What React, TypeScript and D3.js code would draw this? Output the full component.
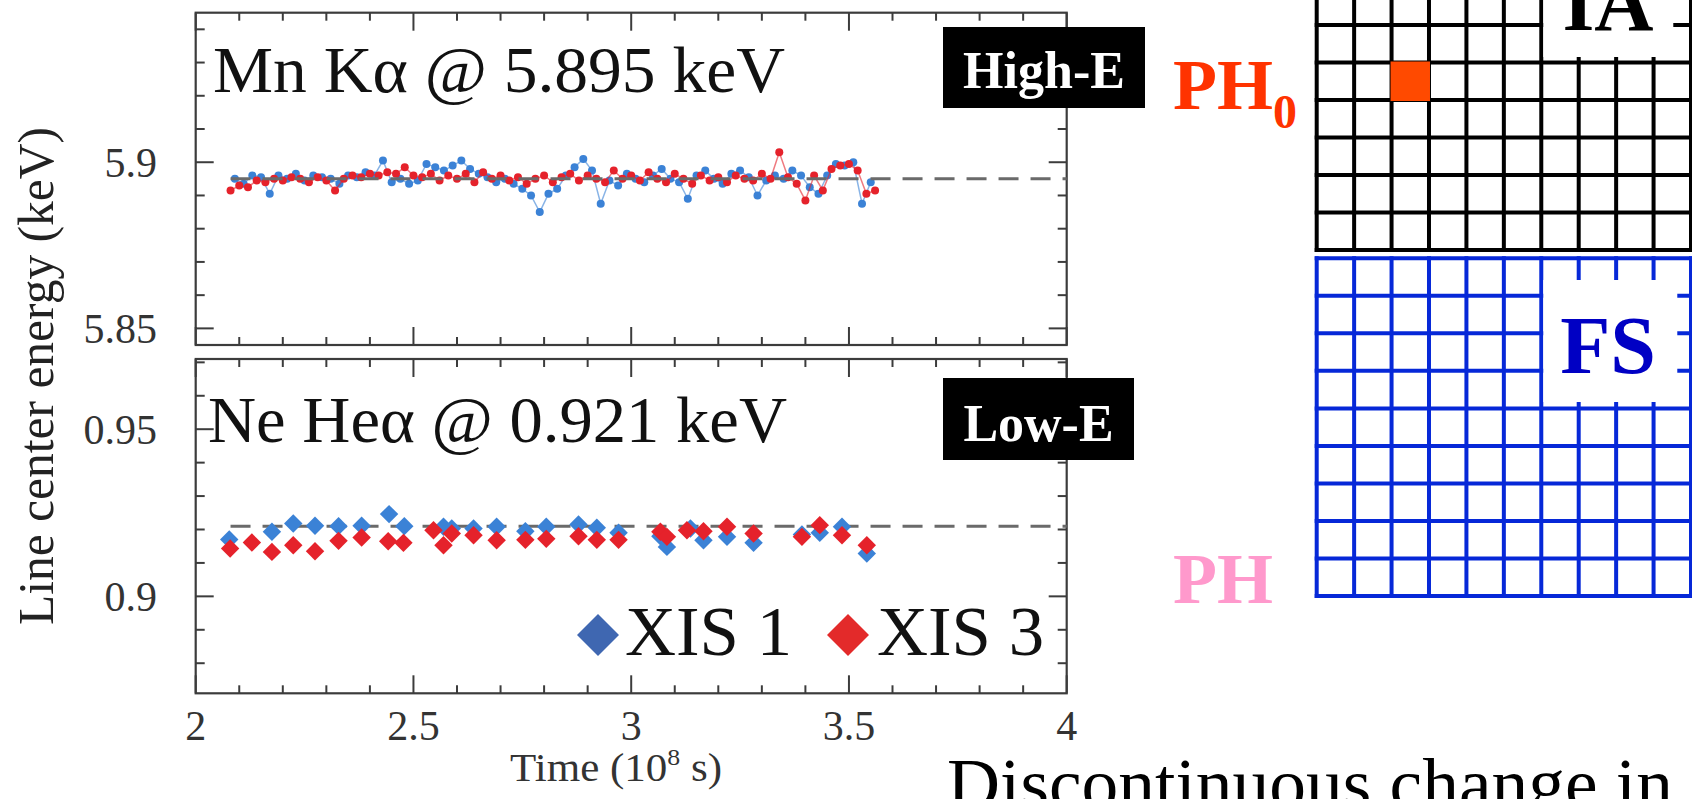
import React from "react";
import * as d3 from "d3";

// ---------- data ----------
const xTickValues = [2, 2.5, 3, 3.5, 4];
const xTickLabels = ["2", "2.5", "3", "3.5", "4"];
const yTopTickValues = [5.85, 5.9];
const yTopTickLabels = ["5.85", "5.9"];
const yBotTickValues = [0.9, 0.95];
const yBotTickLabels = ["0.9", "0.95"];

const mnRef = 5.895;
const neRef = 0.921;

// Mn K-alpha, XIS 1 (blue)
const mnXis1Time = [2.09, 2.11, 2.13, 2.15, 2.17, 2.19, 2.21, 2.23, 2.25, 2.27, 2.29, 2.31, 2.33, 2.35, 2.37, 2.39, 2.41, 2.43, 2.45, 2.47, 2.49, 2.51, 2.53, 2.55, 2.57, 2.59, 2.61, 2.63, 2.65, 2.67, 2.69, 2.71, 2.73, 2.75, 2.77, 2.79, 2.81, 2.83, 2.85, 2.87, 2.89, 2.91, 2.93, 2.95, 2.97, 2.99, 3.01, 3.03, 3.05, 3.07, 3.09, 3.11, 3.13, 3.15, 3.17, 3.19, 3.21, 3.23, 3.25, 3.27, 3.29, 3.31, 3.33, 3.35, 3.37, 3.39, 3.41, 3.43, 3.45, 3.47, 3.49, 3.51, 3.53, 3.55];
const mnXis1Energy = [5.895, 5.8935, 5.896, 5.8955, 5.8905, 5.896, 5.895, 5.8965, 5.8945, 5.896, 5.8955, 5.895, 5.8935, 5.896, 5.8955, 5.897, 5.896, 5.9005, 5.894, 5.895, 5.8935, 5.8945, 5.8995, 5.8985, 5.8975, 5.899, 5.9005, 5.898, 5.8965, 5.8955, 5.894, 5.895, 5.8935, 5.892, 5.89, 5.885, 5.8905, 5.892, 5.896, 5.8985, 5.901, 5.8975, 5.8875, 5.8945, 5.893, 5.8965, 5.895, 5.894, 5.896, 5.898, 5.895, 5.894, 5.889, 5.896, 5.8975, 5.895, 5.8935, 5.8965, 5.8975, 5.8955, 5.89, 5.8945, 5.896, 5.895, 5.8975, 5.896, 5.8925, 5.8905, 5.896, 5.8995, 5.899, 5.9, 5.8875, 5.894];

// Mn K-alpha, XIS 3 (red)
const mnXis3Time = [2.08, 2.1, 2.12, 2.14, 2.16, 2.18, 2.2, 2.22, 2.24, 2.26, 2.28, 2.3, 2.32, 2.34, 2.36, 2.38, 2.4, 2.42, 2.44, 2.46, 2.48, 2.5, 2.52, 2.54, 2.56, 2.58, 2.6, 2.62, 2.64, 2.66, 2.68, 2.7, 2.72, 2.74, 2.76, 2.78, 2.8, 2.82, 2.84, 2.86, 2.88, 2.9, 2.92, 2.94, 2.96, 2.98, 3.0, 3.02, 3.04, 3.06, 3.08, 3.1, 3.12, 3.14, 3.16, 3.18, 3.2, 3.22, 3.24, 3.26, 3.28, 3.3, 3.32, 3.34, 3.36, 3.38, 3.4, 3.42, 3.44, 3.46, 3.48, 3.5, 3.52, 3.54, 3.56];
const mnXis3Energy = [5.8915, 5.893, 5.8925, 5.8945, 5.894, 5.895, 5.8945, 5.8955, 5.895, 5.894, 5.8955, 5.8945, 5.8915, 5.895, 5.896, 5.8955, 5.8965, 5.896, 5.897, 5.8965, 5.8985, 5.896, 5.8955, 5.8965, 5.8945, 5.896, 5.895, 5.8965, 5.894, 5.897, 5.895, 5.896, 5.8945, 5.8955, 5.8935, 5.895, 5.896, 5.894, 5.8955, 5.8965, 5.8945, 5.896, 5.895, 5.894, 5.8975, 5.895, 5.896, 5.8945, 5.897, 5.895, 5.894, 5.8965, 5.895, 5.8935, 5.896, 5.8945, 5.8955, 5.894, 5.896, 5.895, 5.8945, 5.8965, 5.895, 5.903, 5.8955, 5.8935, 5.8885, 5.896, 5.8915, 5.898, 5.899, 5.8995, 5.8975, 5.8905, 5.8915];

// Ne He-alpha, XIS 1 (blue)
const neXis1Time = [2.077, 2.175, 2.224, 2.274, 2.328, 2.381, 2.444, 2.479, 2.569, 2.588, 2.638, 2.691, 2.757, 2.805, 2.879, 2.921, 2.971, 3.067, 3.082, 3.136, 3.166, 3.22, 3.281, 3.392, 3.433, 3.484, 3.541];
const neXis1Energy = [0.917, 0.9193, 0.9218, 0.9211, 0.921, 0.9211, 0.9246, 0.921, 0.9208, 0.9203, 0.9203, 0.9208, 0.9195, 0.9208, 0.9215, 0.9205, 0.919, 0.918, 0.9148, 0.9203, 0.9168, 0.9178, 0.916, 0.9185, 0.919, 0.9208, 0.9128];

// Ne He-alpha, XIS 3 (red)
const neXis3Time = [2.079, 2.129, 2.175, 2.224, 2.274, 2.328, 2.381, 2.442, 2.477, 2.546, 2.569, 2.588, 2.638, 2.691, 2.757, 2.805, 2.879, 2.921, 2.971, 3.067, 3.082, 3.128, 3.166, 3.22, 3.281, 3.392, 3.433, 3.484, 3.541];
const neXis3Energy = [0.9143, 0.9161, 0.9133, 0.9153, 0.9135, 0.9166, 0.9176, 0.9165, 0.916, 0.9198, 0.9153, 0.9188, 0.9183, 0.9168, 0.9169, 0.9172, 0.918, 0.9169, 0.9169, 0.9193, 0.9178, 0.9198, 0.9195, 0.9208, 0.9188, 0.9178, 0.9213, 0.9183, 0.9153];

const legendLabels = ["XIS 1", "XIS 3"];
const seriesColors = { xis1: "#3b82d6", xis3: "#e5222b" };
const legendColors = ["#3f67b1", "#e32a2a"];

// ---------- layout ----------
const W = 1692;
const H = 799;
const SERIF = "'Liberation Serif', 'Times New Roman', Times, serif";

const xS = d3.scaleLinear().domain([2, 4]).range([195.7, 1066.7]);
const yTopS = d3.scaleLinear().domain([5.845, 5.945]).range([345, 12.7]);
const yBotS = d3.scaleLinear().domain([0.871, 0.971]).range([693.3, 359]);

const xMinor = d3.range(0, 21).map((i) => 2 + i * 0.1);
const yTopMinor = d3.range(0, 10).map((i) => 5.85 + i * 0.01);
const yBotMinor = d3.range(-2, 8).map((i) => 0.9 + i * 0.01);

const isMajor = (v: number, step: number) => Math.abs(v / step - Math.round(v / step)) < 1e-6;

function Frame({ yS, yMinor }: { yS: d3.ScaleLinear<number, number>; yMinor: number[] }) {
  const [x0, x1] = xS.range();
  const [yb, yt] = yS.range();
  const stroke = "#3c3c3c";
  return (
    <g>
      <rect x={x0} y={yt} width={x1 - x0} height={yb - yt} fill="none" stroke={stroke} strokeWidth={2.2} />
      {xMinor.map((v, i) => {
        const len = isMajor(v, 0.5) ? 18 : 8;
        const x = xS(v);
        return (
          <g key={"x" + i}>
            <line x1={x} x2={x} y1={yb} y2={yb - len} stroke={stroke} strokeWidth={2} />
            <line x1={x} x2={x} y1={yt} y2={yt + len} stroke={stroke} strokeWidth={2} />
          </g>
        );
      })}
      {yMinor.map((v, i) => {
        const len = isMajor(v, 0.05) ? 18 : 9;
        const y = yS(v);
        return (
          <g key={"y" + i}>
            <line x1={x0} x2={x0 + len} y1={y} y2={y} stroke={stroke} strokeWidth={2} />
            <line x1={x1} x2={x1 - len} y1={y} y2={y} stroke={stroke} strokeWidth={2} />
          </g>
        );
      })}
    </g>
  );
}

const diamond = (size: number) => d3.symbol().type(d3.symbolSquare).size(size)() as string;

export default function App() {
  const gx = d3.scaleLinear().domain([0, 10]).range([1316.7, 1691]);
  const gyA = d3.scaleLinear().domain([0, 6]).range([25, 250]);
  const gyB = d3.scaleLinear().domain([0, 9]).range([258.3, 596]);
  const cols = d3.range(0, 11);
  const rowsA = d3.range(-1, 7);
  const rowsB = d3.range(0, 10);
  const black = "#000";
  const blue = "#0628d8";

  const dSmall = diamond(170);
  const dLegend = diamond(880);
  const line = d3.line<[number, number]>();

  return (
    <svg
      width={W}
      height={H}
      viewBox={`0 0 ${W} ${H}`}
      style={{ position: "absolute", left: 0, top: 0, background: "#fff" }}
      fontFamily={SERIF}
    >
      <rect x={0} y={0} width={W} height={H} fill="#fff" />

      {/* ---------- top panel ---------- */}
      <Frame yS={yTopS} yMinor={yTopMinor} />
      <path
        d={line(mnXis1Time.map((t, i) => [xS(t), yTopS(mnXis1Energy[i])]))!}
        fill="none"
        stroke={seriesColors.xis1}
        strokeWidth={1.5}
        opacity={0.6}
      />
      {mnXis1Time.map((t, i) => (
        <circle key={"b" + i} cx={xS(t)} cy={yTopS(mnXis1Energy[i])} r={4} fill={seriesColors.xis1} />
      ))}
      <path
        d={line(mnXis3Time.map((t, i) => [xS(t), yTopS(mnXis3Energy[i])]))!}
        fill="none"
        stroke={seriesColors.xis3}
        strokeWidth={1.5}
        opacity={0.6}
      />
      {mnXis3Time.map((t, i) => (
        <circle key={"r" + i} cx={xS(t)} cy={yTopS(mnXis3Energy[i])} r={4} fill={seriesColors.xis3} />
      ))}
      <line x1={xS(2.08)} x2={xS(4)} y1={yTopS(mnRef)} y2={yTopS(mnRef)} stroke="#6a6a6a" strokeWidth={3} strokeDasharray="20 12" />
      <text x={213} y={92} fontSize={65} fill="#111" textLength={572} lengthAdjust="spacingAndGlyphs">
        Mn Kα @ 5.895 keV
      </text>
      {yTopTickValues.map((v, i) => (
        <text key={i} x={157} y={yTopS(v) + 15} fontSize={42} fill="#333" textAnchor="end">
          {yTopTickLabels[i]}
        </text>
      ))}

      {/* ---------- bottom panel ---------- */}
      <Frame yS={yBotS} yMinor={yBotMinor} />
      <line x1={xS(2.08)} x2={xS(4)} y1={yBotS(neRef)} y2={yBotS(neRef)} stroke="#6a6a6a" strokeWidth={3} strokeDasharray="20 12" />
      {neXis1Time.map((t, i) => (
        <path key={"nb" + i} d={dSmall} transform={`translate(${xS(t)},${yBotS(neXis1Energy[i])}) rotate(45)`} fill={seriesColors.xis1} />
      ))}
      {neXis3Time.map((t, i) => (
        <path key={"nr" + i} d={dSmall} transform={`translate(${xS(t)},${yBotS(neXis3Energy[i])}) rotate(45)`} fill={seriesColors.xis3} />
      ))}
      <text x={208} y={442} fontSize={65} fill="#111" textLength={579} lengthAdjust="spacingAndGlyphs">
        Ne Heα @ 0.921 keV
      </text>
      {yBotTickValues.map((v, i) => (
        <text key={i} x={157} y={yBotS(v) + 15} fontSize={42} fill="#333" textAnchor="end">
          {yBotTickLabels[i]}
        </text>
      ))}
      {xTickValues.map((v, i) => (
        <text key={i} x={xS(v)} y={740} fontSize={42} fill="#333" textAnchor="middle">
          {xTickLabels[i]}
        </text>
      ))}
      <text x={510} y={781} fontSize={40} fill="#333" textLength={212} lengthAdjust="spacingAndGlyphs">
        Time (10<tspan fontSize={24} dy={-16}>8</tspan>
        <tspan dy={16}> s)</tspan>
      </text>
      <text
        transform="translate(53,376) rotate(-90)"
        fontSize={50}
        fill="#222"
        textAnchor="middle"
        textLength={498}
        lengthAdjust="spacingAndGlyphs"
      >
        Line center energy (keV)
      </text>

      {/* legend */}
      <path d={dLegend} transform={`translate(598,635) rotate(45)`} fill={legendColors[0]} />
      <text x={625} y={655} fontSize={70} fill="#111" textLength={167} lengthAdjust="spacingAndGlyphs">
        {legendLabels[0]}
      </text>
      <path d={dLegend} transform={`translate(848,635) rotate(45)`} fill={legendColors[1]} />
      <text x={877} y={655} fontSize={70} fill="#111" textLength={167} lengthAdjust="spacingAndGlyphs">
        {legendLabels[1]}
      </text>

      {/* High-E / Low-E badges */}
      <rect x={943} y={27} width={202} height={81} fill="#000" />
      <text x={1044} y={88} fontSize={52} fontWeight="bold" fill="#fff" textAnchor="middle">
        High-E
      </text>
      <rect x={943} y={378} width={191} height={82} fill="#000" />
      <text x={1038.5} y={441} fontSize={52} fontWeight="bold" fill="#fff" textAnchor="middle">
        Low-E
      </text>

      {/* ---------- right-hand pixel grids ---------- */}
      {cols.map((c) => (
        <line key={"av" + c} x1={gx(c)} x2={gx(c)} y1={0} y2={gyA(6) + 2} stroke={black} strokeWidth={4} />
      ))}
      {rowsA.map((r) => (
        <line key={"ah" + r} x1={gx(0) - 2} x2={W} y1={gyA(r)} y2={gyA(r)} stroke={black} strokeWidth={4} />
      ))}
      <rect x={gx(2) - 1} y={gyA(1) - 1} width={gx(3) - gx(2) + 2} height={gyA(2) - gyA(1) + 2} fill="#ff4a00" />
      <rect x={gx(6) + 2} y={0} width={130} height={57} fill="#fff" />
      <text x={1608} y={30} fontSize={82} fontWeight="bold" fill="#000" textAnchor="middle">
        IA
      </text>

      {cols.map((c) => (
        <line key={"bv" + c} x1={gx(c)} x2={gx(c)} y1={gyB(0) - 2} y2={gyB(9) + 2} stroke={blue} strokeWidth={4} />
      ))}
      {rowsB.map((r) => (
        <line key={"bh" + r} x1={gx(0) - 2} x2={W} y1={gyB(r)} y2={gyB(r)} stroke={blue} strokeWidth={4} />
      ))}
      <rect x={gx(6) + 2} y={280} width={134} height={122} fill="#fff" />
      <text x={1608} y={373} fontSize={82} fontWeight="bold" fill="#0000c4" textAnchor="middle">
        FS
      </text>

      {/* PH labels */}
      <text x={1173} y={109} fontSize={72} fontWeight="bold" fill="#ff3300">
        PH<tspan fontSize={48} dy={19}>0</tspan>
      </text>
      <text x={1173} y={603} fontSize={72} fontWeight="bold" fill="#ff99cc">
        PH
      </text>

      <text x={947} y={808} fontSize={72} fill="#000" textLength={726} lengthAdjust="spacingAndGlyphs">
        Discontinuous change in
      </text>
    </svg>
  );
}
